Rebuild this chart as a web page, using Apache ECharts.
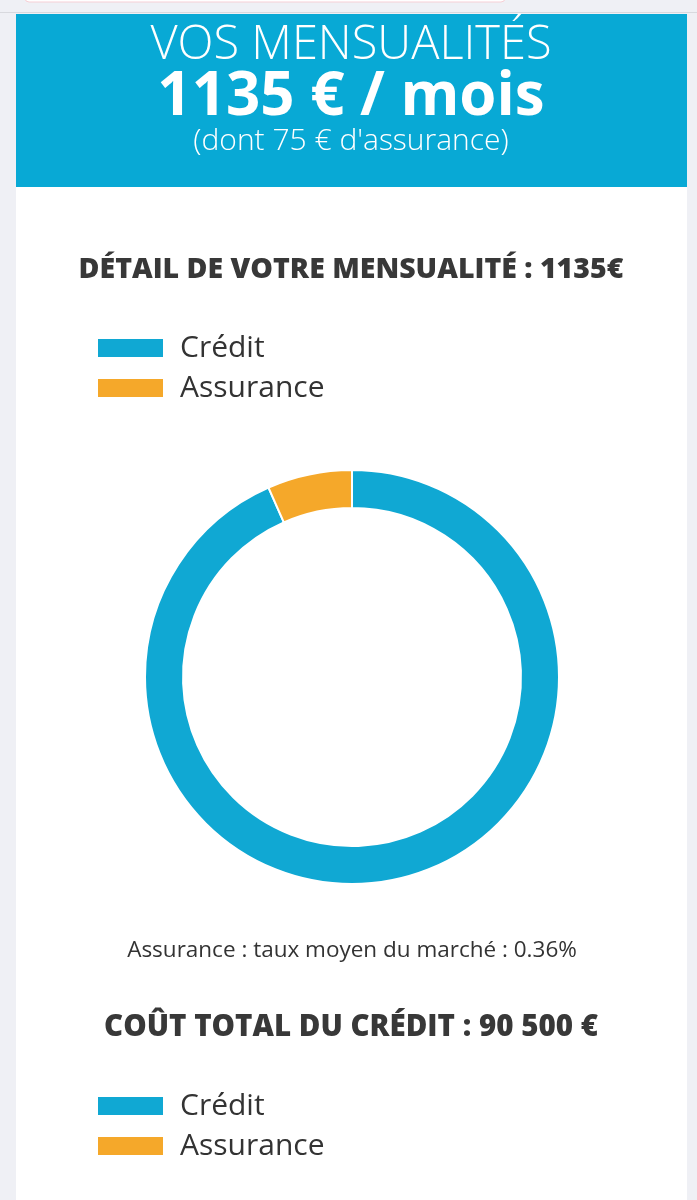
<!DOCTYPE html>
<html><head><meta charset="utf-8">
<script src="https://cdn.jsdelivr.net/npm/echarts@6/dist/echarts.min.js"></script>
<style>html,body{margin:0;padding:0;background:#eff0f5;}#c{width:697px;height:1200px;}</style>
</head><body><div id="c"></div>
<script>
const categories = ['Crédit', 'Assurance'];
const monthlyValues = [1060, 75];
const headerTitle = 'VOS MENSUALITÉS';
const headerAmount = '1135 € / mois';
const headerSub = "(dont 75 € d'assurance)";
const detailTitle = 'DÉTAIL DE VOTRE MENSUALITÉ : 1135€';
const note = 'Assurance : taux moyen du marché : 0.36%';
const costTitle = 'COÛT TOTAL DU CRÉDIT : 90 500 €';
const colors = ['#10a8d3', '#f5a82a'];

const FONT = 'Open Sans';
const chart = echarts.init(document.getElementById('c'), null, {renderer: 'canvas'});
const legendBase = {
  orient: 'vertical', left: 96, itemWidth: 67, itemHeight: 20, itemGap: 10, padding: 0,
  icon: 'rect', data: categories, selectedMode: false,
  textStyle: {fontSize: 30, color: '#333', fontFamily: FONT, padding: [0, 0, 0, 11]}
};
chart.setOption({
  animation: false,
  backgroundColor: '#eff0f5',
  color: colors,
  legend: [
    Object.assign({}, legendBase, {top: 333}),
    Object.assign({}, legendBase, {top: 1091})
  ],
  graphic: [
    {type: 'rect', z: -10, shape: {x: 25, y: -6, width: 480, height: 8, r: 4}, style: {fill: '#fff', stroke: '#f6cfd6', lineWidth: 1}},
    {type: 'rect', z: -10, shape: {x: 0, y: 12, width: 697, height: 1}, style: {fill: '#d8d9de'}},
    {type: 'rect', z: -10, shape: {x: 16, y: 14, width: 671, height: 1200}, style: {fill: '#ffffff'}},
    {type: 'rect', z: -9, shape: {x: 16, y: 14, width: 671, height: 173}, style: {fill: '#08a9d5'}},
    {type: 'text', x: 351, y: 46, style: {text: headerTitle, fill: '#fff', font: '300 47px "' + FONT + '"', textAlign: 'center', textVerticalAlign: 'middle'}},
    {type: 'text', x: 351, y: 98, style: {text: headerAmount, fill: '#fff', font: '700 60px "' + FONT + '"', textAlign: 'center', textVerticalAlign: 'middle'}},
    {type: 'text', x: 351, y: 141, style: {text: headerSub, fill: '#fff', font: '300 30px "' + FONT + '"', textAlign: 'center', textVerticalAlign: 'middle'}},
    {type: 'text', x: 351, y: 270, style: {text: detailTitle, fill: '#383838', font: '800 28.5px "' + FONT + '"', textAlign: 'center', textVerticalAlign: 'middle'}},
    {type: 'text', x: 352, y: 951, style: {text: note, fill: '#333', font: '400 22.5px "' + FONT + '"', textAlign: 'center', textVerticalAlign: 'middle'}},
    {type: 'text', x: 351, y: 1028, style: {text: costTitle, fill: '#383838', font: '800 29.5px "' + FONT + '"', textAlign: 'center', textVerticalAlign: 'middle'}}
  ],
  series: [{
    type: 'pie',
    center: [352, 677],
    radius: [169, 207],
    startAngle: 90,
    clockwise: true,
    label: {show: false},
    labelLine: {show: false},
    emphasis: {disabled: true},
    itemStyle: {borderColor: '#fff', borderWidth: 2},
    data: categories.map((n, i) => ({name: n, value: monthlyValues[i]}))
  }]
});
</script></body></html>
